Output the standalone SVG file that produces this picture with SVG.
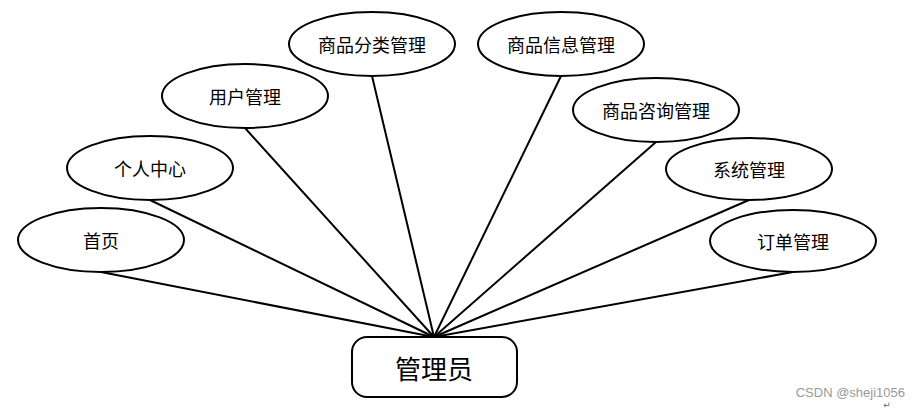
<svg xmlns="http://www.w3.org/2000/svg" width="920" height="409" viewBox="0 0 920 409">
<style>
.n ellipse{fill:#fff;stroke:#000;stroke-width:2}
.t{font-family:"Noto Sans CJK SC",sans-serif;font-size:18px;fill:#000;text-anchor:middle;dominant-baseline:central}
.c line{stroke:#000;stroke-width:2}
</style>
<rect width="920" height="409" fill="#fff"/>
<g class="c" id="connectors">
<line x1="101" y1="272" x2="434" y2="337"/>
<line x1="150" y1="200" x2="434" y2="337"/>
<line x1="245" y1="128" x2="434" y2="337"/>
<line x1="372" y1="76" x2="434" y2="337"/>
<line x1="561" y1="76" x2="434" y2="337"/>
<line x1="656" y1="142" x2="434" y2="337"/>
<line x1="749" y1="200" x2="434" y2="337"/>
<line x1="793" y1="272" x2="434" y2="337"/>
</g>
<g class="n" id="n1"><ellipse cx="101" cy="240" rx="83" ry="32"/><text class="t" x="101" y="240">首页</text></g>
<g class="n" id="n2"><ellipse cx="150" cy="168" rx="83" ry="32"/><text class="t" x="150" y="168">个人中心</text></g>
<g class="n" id="n3"><ellipse cx="245" cy="96" rx="83" ry="32"/><text class="t" x="245" y="96">用户管理</text></g>
<g class="n" id="n4"><ellipse cx="372" cy="44" rx="83" ry="32"/><text class="t" x="372" y="44">商品分类管理</text></g>
<g class="n" id="n5"><ellipse cx="561" cy="44" rx="83" ry="32"/><text class="t" x="561" y="44">商品信息管理</text></g>
<g class="n" id="n6"><ellipse cx="656" cy="110" rx="83" ry="32"/><text class="t" x="656" y="110">商品咨询管理</text></g>
<g class="n" id="n7"><ellipse cx="749" cy="169" rx="83" ry="31"/><text class="t" x="749" y="169">系统管理</text></g>
<g class="n" id="n8"><ellipse cx="793" cy="241" rx="83" ry="31"/><text class="t" x="793" y="241">订单管理</text></g>
<g id="admin"><rect x="352" y="337" width="165" height="60" rx="15" fill="#fff" stroke="#000" stroke-width="2"/><text class="t" x="434" y="367" style="font-size:26px">管理员</text></g>
<text x="905" y="397" font-family="Liberation Sans,Arial,sans-serif" font-size="13" fill="#999" text-anchor="end">CSDN @sheji1056</text>
<text x="887" y="408" font-family="DejaVu Sans,sans-serif" font-size="9" fill="#666" text-anchor="middle">↵</text>
</svg>
